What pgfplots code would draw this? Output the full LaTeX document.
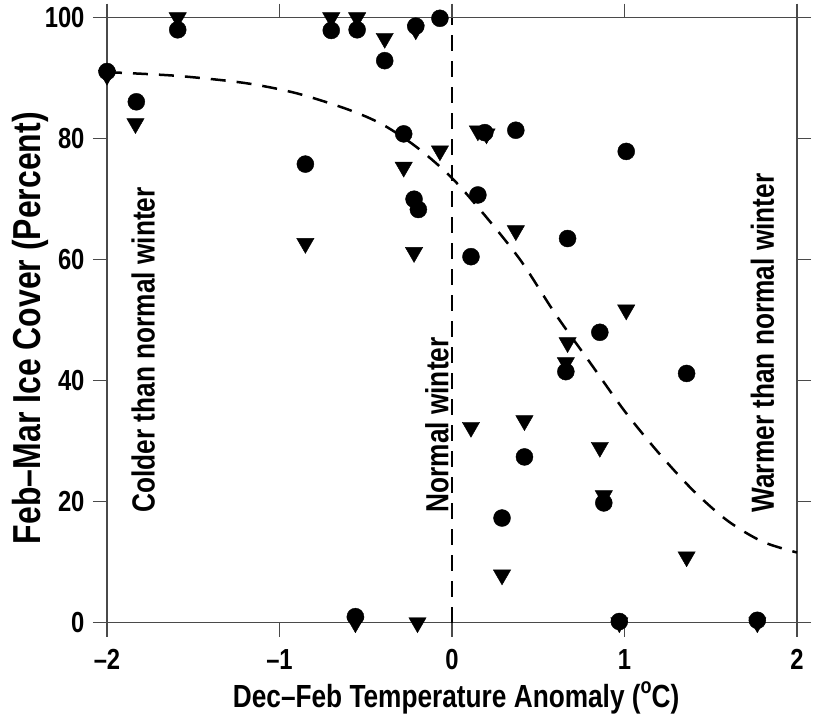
\documentclass[border=0pt]{standalone}
\usepackage{fontspec}
\setmainfont{Liberation Sans}[FakeStretch=0.82]
\usepackage{pgfplots}
\pgfplotsset{compat=1.18}
\definecolor{axisgray}{HTML}{4A4A4A}
\pgfplotstableread{
x y
-2.00 91.1
-1.83 86.1
-1.59 98.0
-0.70 97.9
-0.55 98.0
-0.39 92.9
-0.21 98.6
-0.07 99.9
-0.28 80.8
-0.85 75.8
-0.22 70.0
-0.195 68.3
0.11 60.5
0.19 81.0
0.37 81.4
1.01 77.9
0.15 70.7
0.67 63.5
0.857 48.0
0.66 41.5
1.36 41.2
0.42 27.4
0.88 19.8
0.29 17.3
0.97 0.2
1.77 0.4
-0.56 1.0
}\circles
\pgfplotstableread{
x y
-2.00 90.5
-1.835 82.5
-1.59 100
-0.70 100
-0.55 100
-0.39 96.6
-0.21 98.0
-0.07 78.0
-0.28 75.3
-0.85 62.7
-0.22 61.2
0.15 81.3
0.20 80.8
0.37 64.8
1.01 51.7
0.67 46.3
0.66 43.0
0.11 32.3
0.42 33.4
0.857 29.0
0.88 21.0
1.36 10.9
0.29 7.9
-0.20 0
0.97 0
1.77 0
-0.56 0
}\triangles
\pgfplotstableread{
x y
-2.0 91.0
-1.6 90.4
-1.2 89.2
-0.9 87.5
-0.6 84.8
-0.4 82.3
-0.2 78.5
0.0 73.5
0.2 67.0
0.4 59.8
0.6 51.0
0.8 43.0
1.0 35.0
1.2 28.0
1.4 21.8
1.6 16.8
1.8 13.4
2.0 11.6
}\fit
\begin{document}
\begin{tikzpicture}[x=1pt,y=1pt]
\useasboundingbox (-107,-98.3) rectangle (706,622.7);
\begin{axis}[
  at={(0,0)}, anchor=south west,
  scale only axis, width=690pt, height=605pt,
  xmin=-2, xmax=2, ymin=0, ymax=100,
  xtick={-2,-1,0,1,2},
  xticklabels={\textendash 2,\textendash 1,0,1,2},
  ytick={0,20,40,60,80,100},
  yticklabels={0,20,40,60,80,100},
  tick align=outside, tick pos=both,
  major tick length=14pt,
  tick style={line width=1.5pt, color=axisgray},
  axis line style={line width=1.5pt, color=axisgray},
  ticklabel style={font=\fontsize{29}{29}\selectfont\bfseries, text=black},
  xticklabel style={yshift=-9pt},
  yticklabel style={xshift=-5pt},
  xlabel={Dec\textendash Feb Temperature Anomaly (\raisebox{0.42em}{\fontsize{22}{22}\selectfont o}C)},
  ylabel={Feb\textendash Mar Ice Cover (Percent)},
  xlabel style={font=\fontsize{32}{32}\selectfont\bfseries, at={(axis description cs:0.506,-0.14)}, anchor=base},
  ylabel style={font=\fontsize{39}{39}\selectfont\bfseries, at={(axis description cs:-0.08,0.487)}, anchor=south},
  clip=false,
]
\addplot[black, line width=2.5pt, dash pattern=on 16pt off 10pt] coordinates {(0,0) (0,100)};
\addplot[black, line width=2.5pt, dash pattern=on 15pt off 11pt, smooth, tension=0.5] table[x=x,y=y] {\fit};
\addplot[only marks, mark=triangle*, mark size=10pt, mark options={rotate=180, fill=black, draw=black}] table[x=x,y=y] {\triangles};
\addplot[only marks, mark=*, mark size=8.5pt, mark options={fill=black, draw=black}] table[x=x,y=y] {\circles};
\node[rotate=90, anchor=west, inner sep=0pt, font=\fontsize{32}{32}\selectfont\bfseries] at (axis cs:-1.79,18.2) {Colder than normal winter};
\node[rotate=90, anchor=west, inner sep=0pt, font=\fontsize{32}{32}\selectfont\bfseries] at (axis cs:-0.087,18.2) {Normal winter};
\node[rotate=90, anchor=west, inner sep=0pt, font=\fontsize{32}{32}\selectfont\bfseries] at (axis cs:1.80,18.2) {Warmer than normal winter};
\end{axis}
\end{tikzpicture}
\end{document}
